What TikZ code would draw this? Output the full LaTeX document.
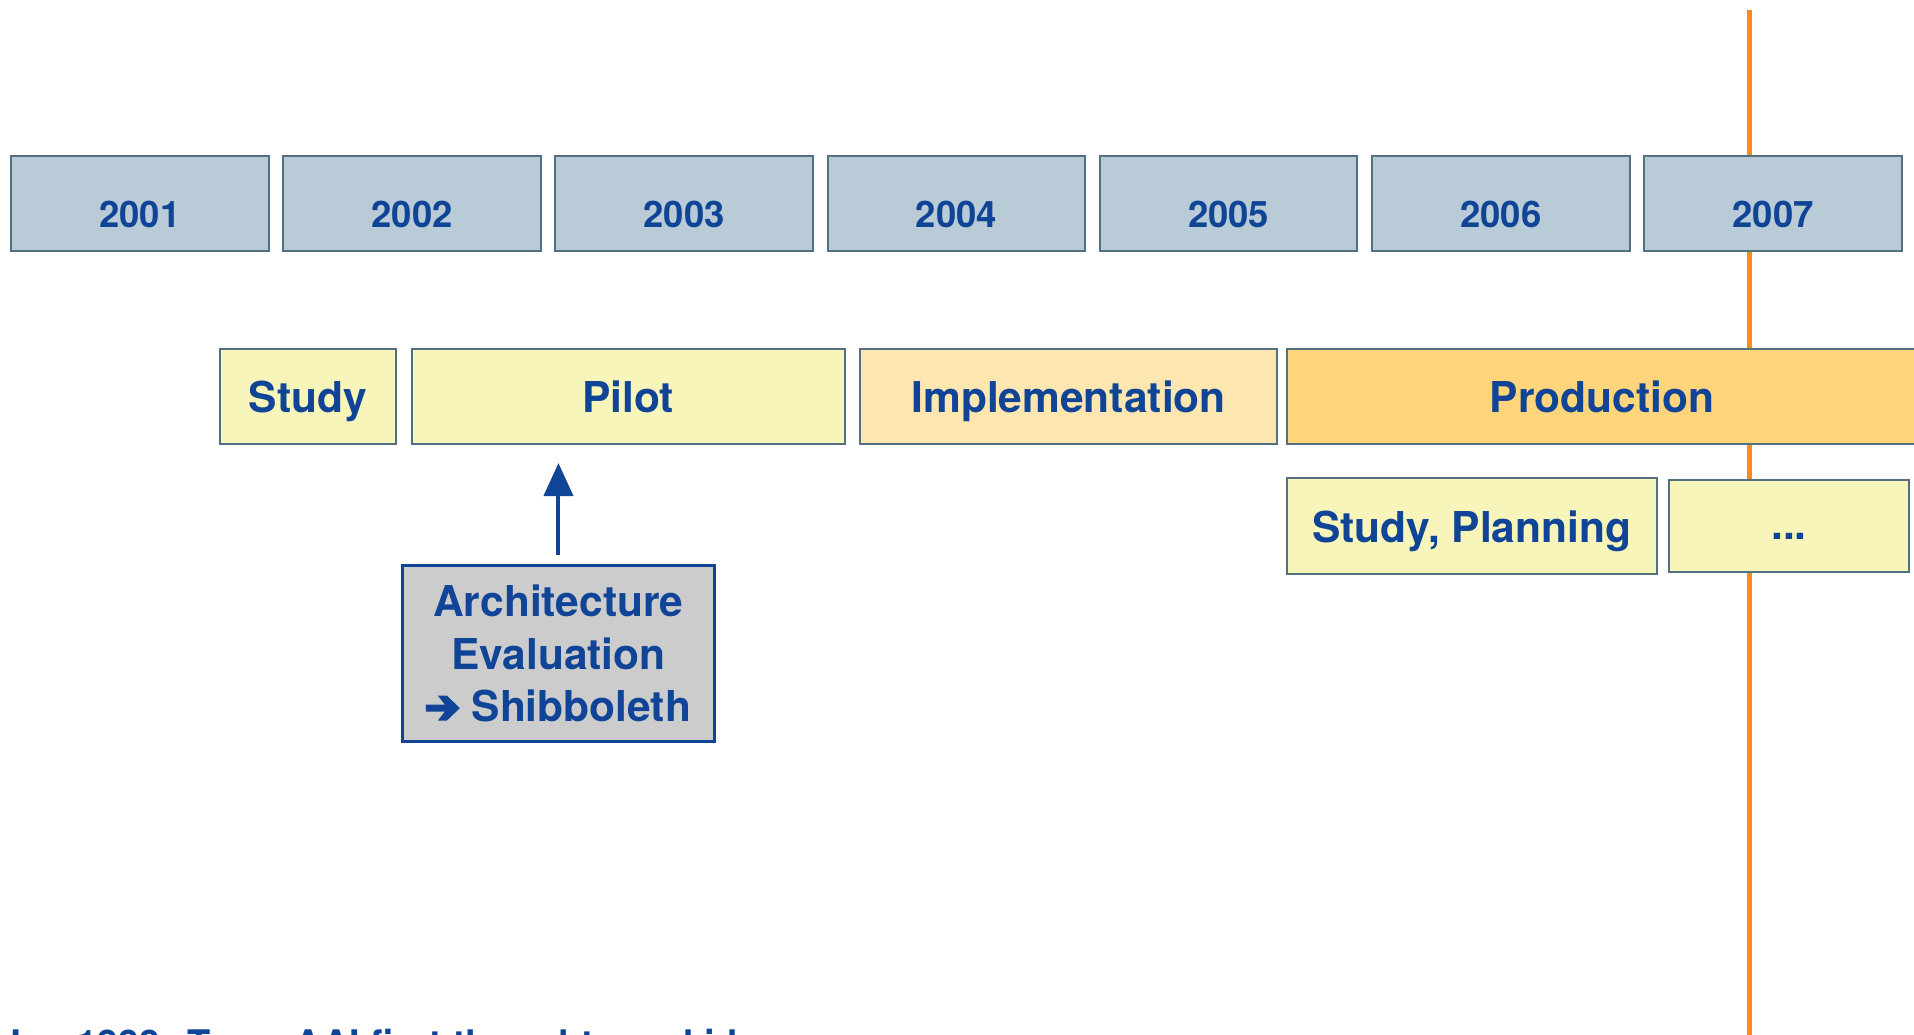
\documentclass[tikz,border=0pt]{standalone}
\usepackage{fontspec}
\setmainfont{TeX Gyre Heros}
\usetikzlibrary{arrows.meta}
\definecolor{txtblue}{HTML}{0F4496}
\definecolor{boxborder}{HTML}{52707F}
\definecolor{yearfill}{HTML}{B8CBD6}
\definecolor{paleyellow}{HTML}{F7F5B9}
\definecolor{implfill}{HTML}{FEE6B1}
\definecolor{prodfill}{HTML}{FED57A}
\definecolor{archfill}{HTML}{CCCCCC}
\definecolor{orangeline}{HTML}{F98B16}
\newcommand{\heavyarrow}{\tikz[x=1pt,y=1pt,baseline=0pt]\fill[txtblue] (0,10) -- (19,10) -- (12,1) -- (21,1) -- (34,13.5) -- (21,26) -- (12,26) -- (19,17) -- (0,17) -- cycle;}
\begin{document}
\begin{tikzpicture}[x=1pt,y=-1pt,
  box/.style={draw=boxborder, line width=2pt, rectangle, inner sep=0pt,
    anchor=north west, text=txtblue, text depth=0pt,
    font=\bfseries\fontsize{42.5}{50}\selectfont},
  yearbox/.style={box, fill=yearfill, minimum width=257.6pt, minimum height=95pt,
    text height=47pt, font=\bfseries\fontsize{36.5}{42}\selectfont},
  phasebox/.style={box, minimum height=95pt, text height=32pt},
  archbox/.style={box, fill=archfill, draw=txtblue, line width=2.5pt,
    minimum width=312.4pt, minimum height=176pt, align=center,
    font=\bfseries\fontsize{42.5}{52.5}\selectfont},
  orangestroke/.style={draw=orangeline, line width=5pt},
  uparrow/.style={color=txtblue, line width=4pt,
    -{Triangle[length=33pt,width=29pt,fill=txtblue]}, shorten <=9pt, shorten >=18pt}
]
\useasboundingbox (0,0) rectangle (1914,1034);
\clip (0,0) rectangle (1914,1034);

% orange "today" line (behind everything)
\coordinate (otop) at (1749,10);
\coordinate (obot) at (1749,1040);
\draw[orangestroke] (otop) -- (obot);

% years
\node[yearbox] (y1) at (10,155) {2001};
\node[yearbox] (y2) at (282.2,155) {2002};
\node[yearbox] (y3) at (554.4,155) {2003};
\node[yearbox] (y4) at (826.6,155) {2004};
\node[yearbox] (y5) at (1098.8,155) {2005};
\node[yearbox] (y6) at (1371,155) {2006};
\node[yearbox] (y7) at (1643.2,155) {2007};

% phases
\node[phasebox, fill=paleyellow, minimum width=175.5pt] (study) at (219,348) {Study};
\node[phasebox, fill=paleyellow, minimum width=432.5pt] (pilot) at (411,348) {Pilot};
\node[phasebox, fill=implfill, minimum width=417pt] (impl) at (859,348) {Implementation};
\node[phasebox, fill=prodfill, minimum width=630pt] (prod) at (1286,348) {Production};

% sub-phases
\node[box, fill=paleyellow, minimum width=369.5pt, minimum height=95.5pt, text height=32.5pt] (plan) at (1286,477) {Study, Planning};
\node[box, fill=paleyellow, minimum width=240pt, minimum height=92.5pt, text height=26.5pt] (dots) at (1668,478.5) {...};

% architecture evaluation
\node[archbox] (arch) at (401,564) {Architecture\\Evaluation\\\heavyarrow\ Shibboleth};
\draw[uparrow] (arch.north) -- (arch.north |- pilot.south);

% bottom line (cut off by the frame, as in the reference)
\node[anchor=base west, inner sep=0pt, text=txtblue, font=\bfseries\fontsize{38}{45}\selectfont] (note) at (0,1057) {Jan 1999: Team AAI first thoughts and ideas};
\end{tikzpicture}
\end{document}
